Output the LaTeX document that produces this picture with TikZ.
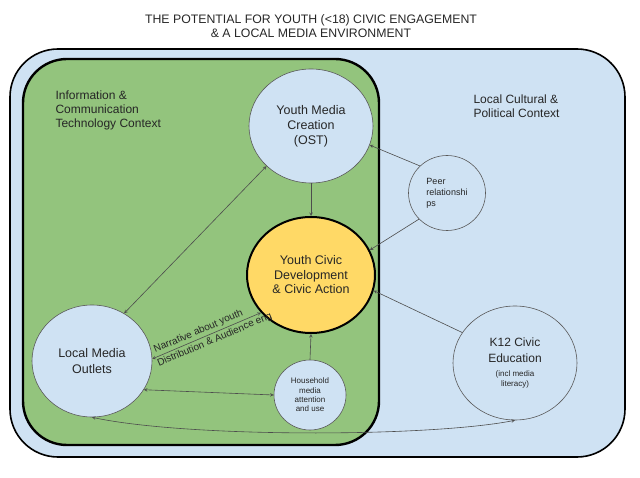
\documentclass[tikz,border=0pt]{standalone}
\usepackage{fontspec}
\setmainfont{Liberation Sans}
\definecolor{ctxblue}{HTML}{CFE2F3}
\definecolor{ictgreen}{HTML}{93C47D}
\definecolor{civicyellow}{HTML}{FFD966}
\definecolor{edgegray}{HTML}{4D4D4D}
\usetikzlibrary{positioning, arrows, shapes.geometric}
\tikzstyle{link} = [->,>=stealth,line width=0.6pt,draw=edgegray]
\tikzstyle{twoway} = [<->,>=stealth,line width=0.6pt,draw=edgegray]

\begin{document}
\begin{tikzpicture}[x=1pt,y=-1pt]
                    \tikzstyle{every node}=[text=black!85]
                    \tikzstyle{factor} = [ellipse, draw=black!65, line width=0.6pt, fill=ctxblue, inner sep=0pt, align=center]
                    \tikzstyle{ctxlabel} = [anchor=west, align=left, font=\fontsize{12}{14}\selectfont]
                    \tikzstyle{edgelabel} = [sloped, inner sep=2pt, font=\fontsize{10}{12}\selectfont]

                    \useasboundingbox (0,0) rectangle (640,478);

                    % % context boxes
                    \draw[fill=ctxblue, line width=1.6pt, rounded corners=48pt] (10,49) rectangle (625,457);
                    \draw[fill=ictgreen, line width=2.4pt, rounded corners=44pt] (23,59) rectangle (379,445);

                    \node[align=center, font=\fontsize{12.3}{14}\selectfont](title) at (311,26.5) {THE POTENTIAL FOR YOUTH (<18) CIVIC ENGAGEMENT\\\& A LOCAL MEDIA ENVIRONMENT};
                    \node[ctxlabel](ict) at (52,110) {Information \&\\Communication\\Technology Context};
                    \node[ctxlabel](local) at (470,106.5) {Local Cultural \&\\Political Context};

                    \node[factor, minimum width=124pt, minimum height=114pt, font=\fontsize{12.5}{15}\selectfont](ymc) at (311,126) {Youth Media\\Creation\\(OST)};
                    \node[factor, fill=civicyellow, draw=black, line width=2pt, minimum width=128pt, minimum height=116pt, font=\fontsize{12.5}{14.5}\selectfont](ycd) at (311,275) {Youth Civic\\Development\\\& Civic Action};
                    \node[factor, align=left, minimum width=77pt, minimum height=75pt, font=\fontsize{9}{11}\selectfont](peer) at (447,193) {Peer\\relationshi\\ps};
                    \node[factor, minimum width=124pt, minimum height=114pt, font=\fontsize{12}{15.5}\selectfont](k12) at (515,363) {K12 Civic\\Education\\[-1.5pt]{\fontsize{8}{10}\selectfont (incl media}\\[-5pt]{\fontsize{8}{10}\selectfont literacy)}};
                    \node[factor, minimum width=120pt, minimum height=112pt, font=\fontsize{12.5}{15.5}\selectfont](lmo) at (92,361) {Local Media\\Outlets};
                    \node[factor, minimum width=72pt, minimum height=70pt, font=\fontsize{8}{9.3}\selectfont](hh) at (310,395) {Household\\media\\attention\\and use};

                    \draw[link] (ymc) -- (ycd);
                    \draw[twoway] (lmo.56) -- (ymc.222);
                    \draw[twoway] (lmo.2) -- (ycd.217)
                        node[edgelabel, above, pos=0.45]{Narrative about youth}
                        node[edgelabel, below, pos=0.55]{Distribution \& Audience eng};

                    % % outside influences
                    \draw[link] (peer.135) -- (ymc.342);
                    \draw[link] (peer.223) -- (ycd.23);
                    \draw[link] (k12.150) -- (ycd.346);

                    \draw[twoway] (lmo.331) -- (hh.180);
                    \draw[link] (hh.north) -- (ycd.south);
                    \draw[twoway] (lmo.south) .. controls (190,438) and (430,437) .. (k12.south);

\end{tikzpicture}
\end{document}
